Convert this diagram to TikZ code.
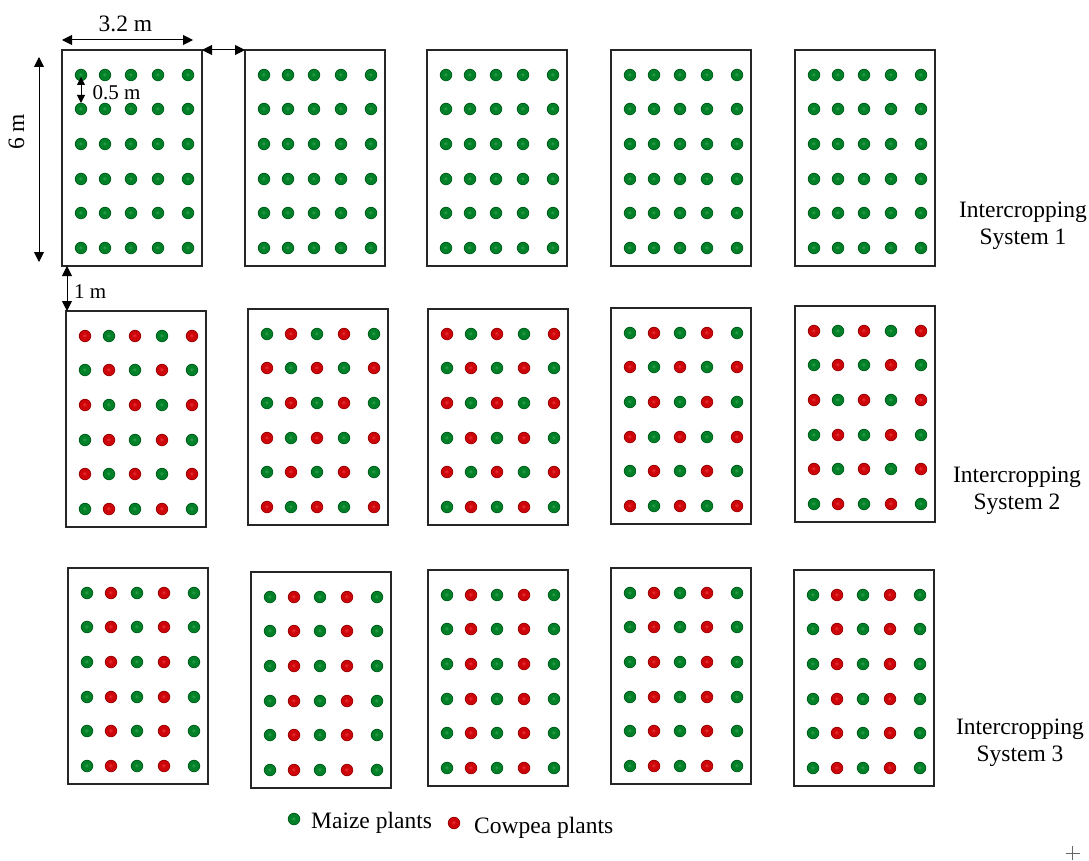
\documentclass[tikz,border=0pt]{standalone}
\usepackage{fontspec}
\setmainfont{Liberation Serif}
\usetikzlibrary{arrows.meta,calc}
\definecolor{gl}{RGB}{50,165,75}
\definecolor{gm}{RGB}{0,128,40}
\definecolor{gd}{RGB}{0,75,20}
\definecolor{rl}{RGB}{235,55,55}
\definecolor{rm}{RGB}{205,5,10}
\definecolor{rd}{RGB}{125,0,0}
\pgfdeclareradialshading{gdot}{\pgfpoint{-3bp}{3bp}}{color(0bp)=(gl); color(9bp)=(gm); color(20bp)=(gm); color(25bp)=(gd); color(50bp)=(gd)}
\pgfdeclareradialshading{rdot}{\pgfpoint{-3bp}{3bp}}{color(0bp)=(rl); color(9bp)=(rm); color(20bp)=(rm); color(25bp)=(rd); color(50bp)=(rd)}
\tikzset{
  plot/.style={draw=black!85, line width=1.3pt, minimum width=140pt, minimum height=216pt, inner sep=0pt, outer sep=0pt},
  dim/.style={line width=1pt, {Triangle[length=10pt,width=10pt]}-{Triangle[length=10pt,width=10pt]}},
  smalldim/.style={line width=1pt, {Triangle[length=8pt,width=8pt]}-{Triangle[length=8pt,width=8pt]}},
  biglab/.style={font=\fontsize{23.5}{27}\selectfont, inner sep=0pt},
  smalllab/.style={font=\fontsize{21}{24}\selectfont, inner sep=0pt},
  syslab/.style={font=\fontsize{23.5}{27}\selectfont, inner sep=0pt, align=center}
}
\begin{document}
\begin{tikzpicture}[x=1pt,y=-1pt]
\useasboundingbox[fill=white] (0,0) rectangle (1089,861);
% Row 1: maize only
\foreach \bx/\by [count=\p] in {62/50,245/50,427/50,611/50,795/50}{
  \node[plot] (a\p) at (\bx+70,\by+108) {};
  \foreach \dx in {19,43,69,96,126}
    \foreach \dy in {25,59,94,129,163,198}
      \shade[shading=gdot] (\bx+\dx,\by+\dy) circle (6.2);
}
% Row 2: alternating checkerboard
\foreach \bx/\by [count=\p] in {66/311,248/309,428/309,611/308,795/306}{
  \node[plot] (b\p) at (\bx+70,\by+108) {};
  \foreach \dx [count=\c] in {19,43,69,96,126}
    \foreach \dy [count=\r] in {25,59,94,129,163,198}{
      \pgfmathtruncatemacro\odd{mod(\r+\c+\p,2)}
      \ifnum\odd=1 \def\sh{rdot}\else\def\sh{gdot}\fi
      \shade[shading=\sh] (\bx+\dx,\by+\dy) circle (6.2);
    }
}
% Row 3: columns 2 and 4 cowpea
\foreach \bx/\by [count=\p] in {68/568,251/572,428/570,611/568,794/570}{
  \node[plot] (c\p) at (\bx+70,\by+108) {};
  \foreach \dx [count=\c] in {19,43,69,96,126}
    \foreach \dy in {25,59,94,129,163,198}{
      \pgfmathtruncatemacro\odd{mod(\c,2)}
      \ifnum\odd=0 \def\sh{rdot}\else\def\sh{gdot}\fi
      \shade[shading=\sh] (\bx+\dx,\by+\dy) circle (6.2);
    }
}
% Dimensions
\coordinate (wL) at (62,40);
\coordinate (wR) at (193,40);
\draw[dim] (wL) -- (wR);
\node[biglab, anchor=base] (w) at (125.5,32) {3.2 m};
\draw[dim] (a1.north east) -- (a2.north west);
\coordinate (hT) at (39,57);
\coordinate (hB) at (39,262);
\draw[dim] (hT) -- (hB);
\node[biglab, rotate=90, anchor=base] (h) at (24,132) {6 m};
\coordinate (sT) at (81,77);
\coordinate (sB) at (81,103);
\draw[smalldim] (sT) -- (sB);
\node[smalllab, anchor=base west] (s) at (92.5,100) {0.5 m};
\coordinate (gx) at (67,0);
\coordinate (gT) at (gx |- a1.south);
\coordinate (gB) at (gx |- b1.north);
\draw[dim] (gT) -- (gB);
\node[smalllab, anchor=base west] (g) at (74,298) {1 m};
% System labels
\node[syslab] (s1) at (1023,226) {Intercropping\\System 1};
\node[syslab] (s2) at (1017,491) {Intercropping\\System 2};
\node[syslab] (s3) at (1020,743) {Intercropping\\System 3};
% Legend
\shade[shading=gdot] (294,819) circle (6.2);
\node[biglab, anchor=base west] (lm) at (311,828) {Maize plants};
\shade[shading=rdot] (454,823) circle (6.2);
\node[biglab, anchor=base west] (lc) at (474,833) {Cowpea plants};
% corner mark
\coordinate (pc) at (1072.5,853);
\draw[black!60, line width=0.8pt] ($(pc)+(-7,0)$) -- ($(pc)+(7,0)$) ($(pc)+(0,-7)$) -- ($(pc)+(0,7)$);
\end{tikzpicture}
\end{document}
